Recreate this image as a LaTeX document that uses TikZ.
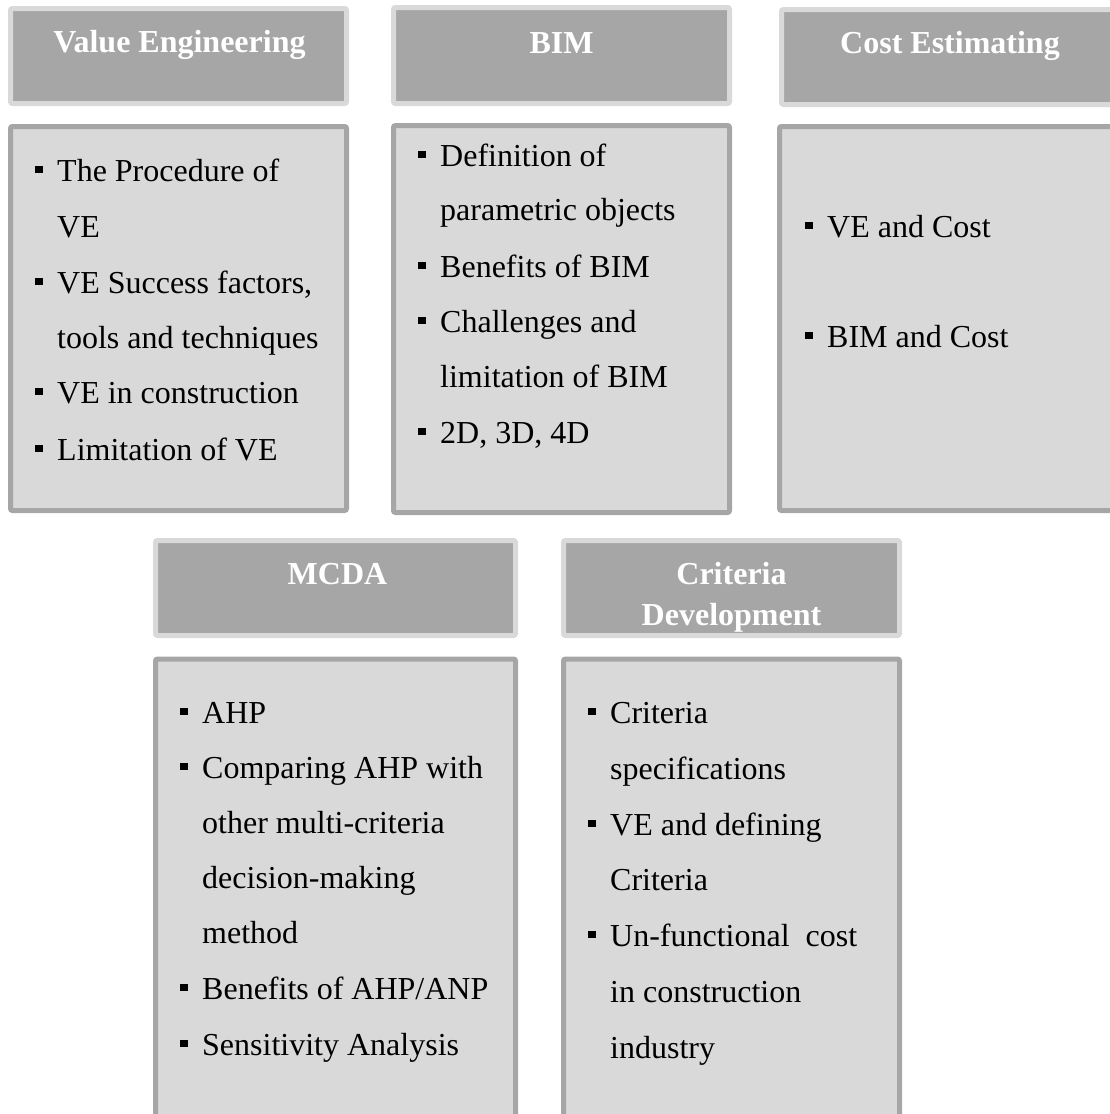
\documentclass[tikz,border=0pt]{standalone}
\usepackage{fontspec}
\setmainfont{Liberation Serif}
\definecolor{hdfill}{HTML}{A6A6A6}
\definecolor{hdedge}{HTML}{D9D9D9}
\definecolor{bdfill}{HTML}{D9D9D9}
\definecolor{bdedge}{HTML}{A6A6A6}
% square bullet followed by the hanging indent
\newcommand\sqbul{\makebox[22pt][l]{\rule[8pt]{7.5pt}{7.5pt}}}
\tikzset{
  hdbox/.style={draw=hdedge, fill=hdfill, line width=5pt, rounded corners=2pt, inner sep=0pt},
  bdbox/.style={draw=bdedge, fill=bdfill, line width=5pt, rounded corners=2pt, inner sep=0pt},
  hdtext/.style={anchor=base, inner sep=0pt, text=white, font=\fontsize{32}{41}\selectfont\bfseries, align=center},
  item/.style={anchor=base west, inner sep=0pt, font=\fontsize{32}{38}\selectfont},
}
\begin{document}
\begin{tikzpicture}[x=1pt, y=-1pt]
\useasboundingbox (0,0) rectangle (1110,1114);
\clip (0,0) rectangle (1110,1114);

% header boxes (outer extent W x H, line centred 2.5pt inside)
\node[hdbox, minimum width=336pt, minimum height=95pt] (h1) at (178.5,56) {};
\node[hdbox, minimum width=336pt, minimum height=96pt] (h2) at (561.5,55.5) {};
\node[hdbox, minimum width=337pt, minimum height=95pt] (h3) at (950,57) {};
\node[hdbox, minimum width=360pt, minimum height=95pt] (h4) at (335.5,588) {};
\node[hdbox, minimum width=336pt, minimum height=95pt] (h5) at (731.5,588) {};

% body boxes
\node[bdbox, minimum width=336pt, minimum height=384pt] (b1) at (178.5,318.5) {};
\node[bdbox, minimum width=336pt, minimum height=387pt] (b2) at (561.5,319) {};
\node[bdbox, minimum width=339pt, minimum height=384pt] (b3) at (949,318.5) {};
\node[bdbox, minimum width=360pt, minimum height=478pt] (b4) at (335.5,898) {};
\node[bdbox, minimum width=336pt, minimum height=478pt] (b5) at (731.5,898) {};

% header titles
\node[hdtext] (t1) at (179.5,52) {Value Engineering};
\node[hdtext] (t2) at (561.5,53) {BIM};
\node[hdtext] (t3) at (950,53) {Cost Estimating};
\node[hdtext] (t4) at (337.5,584) {MCDA};
\node[hdtext] (t5a) at (731.5,584) {Criteria};
\node[hdtext] (t5b) at (731.5,625) {Development};

% Value Engineering items
\node[item] (v1) at (35,181) {\sqbul The Procedure of};
\node[item] (v1b) at (57,237) {VE};
\node[item] (v2) at (35,293) {\sqbul VE Success factors,};
\node[item] (v2b) at (57,348) {tools and techniques};
\node[item] (v3) at (35,403) {\sqbul VE in construction};
\node[item] (v4) at (35,460) {\sqbul Limitation of VE};

% BIM items
\node[item] (m1) at (418,166) {\sqbul Definition of};
\node[item] (m1b) at (440,220) {parametric objects};
\node[item] (m2) at (418,277) {\sqbul Benefits of BIM};
\node[item] (m3) at (418,332) {\sqbul Challenges and};
\node[item] (m3b) at (440,387) {limitation of BIM};
\node[item] (m4) at (418,443) {\sqbul 2D, 3D, 4D};

% Cost Estimating items
\node[item] (c1) at (805,237) {\sqbul VE and Cost};
\node[item] (c2) at (805,347) {\sqbul BIM and Cost};

% MCDA items
\node[item] (d1) at (180,723) {\sqbul AHP};
\node[item] (d2) at (180,778) {\sqbul Comparing AHP with};
\node[item] (d2b) at (202,833) {other multi-criteria};
\node[item] (d2c) at (202,888) {decision-making};
\node[item] (d2d) at (202,943) {method};
\node[item] (d3) at (180,999) {\sqbul Benefits of AHP/ANP};
\node[item] (d4) at (180,1055) {\sqbul Sensitivity Analysis};

% Criteria Development items
\node[item] (k1) at (588,723) {\sqbul Criteria};
\node[item] (k1b) at (610,779) {specifications};
\node[item] (k2) at (588,835) {\sqbul VE and defining};
\node[item] (k2b) at (610,890) {Criteria};
\node[item] (k3) at (588,946) {\sqbul Un-functional\ \ cost};
\node[item] (k3b) at (610,1002) {in construction};
\node[item] (k3c) at (610,1058) {industry};
\end{tikzpicture}
\end{document}
